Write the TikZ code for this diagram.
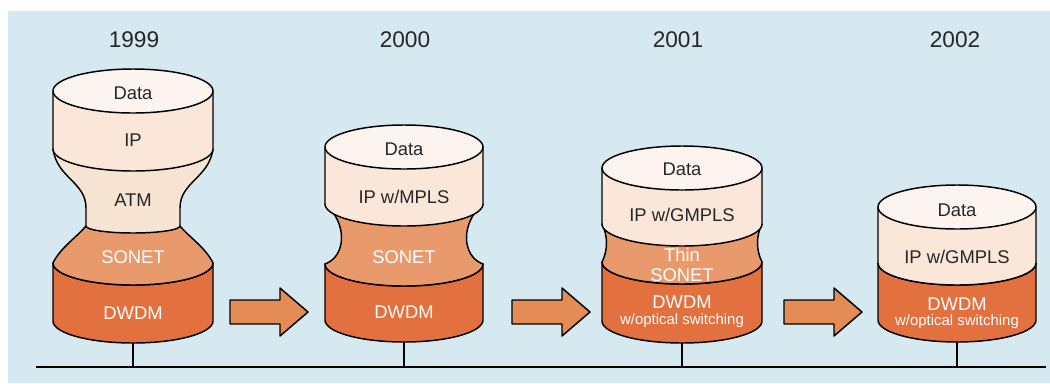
\documentclass[tikz,border=0pt]{standalone}
\usepackage{fontspec}
\setmainfont{Liberation Sans}
\definecolor{panel}{HTML}{D7E9F0}
\definecolor{datac}{HTML}{FDF3EF}
\definecolor{ipc}{HTML}{FAE7D9}
\definecolor{atmc}{HTML}{F7E4D2}
\definecolor{sonetc}{HTML}{E89A6C}
\definecolor{dwdmc}{HTML}{E3703F}
\definecolor{arrowc}{HTML}{E58B56}
\begin{document}
\begin{tikzpicture}[x=0.75pt,y=-0.75pt,
  outline/.style={draw=black,line width=1.1pt,line join=round},
  layerdata/.style={outline,fill=datac},
  layerip/.style={outline,fill=ipc},
  layeratm/.style={outline,fill=atmc},
  layersonet/.style={outline,fill=sonetc},
  layerdwdm/.style={outline,fill=dwdmc},
  bigarrow/.style={outline,fill=arrowc},
  darklabel/.style={text=black!85,font=\fontsize{13.8}{15}\selectfont,inner sep=0pt},
  lightlabel/.style={text=white,font=\fontsize{13.8}{15}\selectfont,inner sep=0pt},
  smalllabel/.style={text=white,font=\fontsize{11.2}{12}\selectfont,inner sep=0pt},
  yearlabel/.style={text=black!85,font=\fontsize{17}{19}\selectfont,inner sep=0pt},
  stem/.style={draw=black,line width=1.4pt},
  ground/.style={draw=black,line width=1.6pt}]

% canvas and panel
\useasboundingbox (0,0) rectangle (1050,383);
\fill[white] (0,0) rectangle (1050,383);
\fill[panel] (8,11) rectangle (1050,383);

% ---------- 1999 stack (centre x = 133) ----------
\path[layerdwdm] (53,263) -- (53,321) arc[start angle=180,end angle=0,x radius=80,y radius=22]
  -- (213,263) arc[start angle=0,end angle=180,x radius=80,y radius=22] -- cycle;
\path[layersonet] (53,263) arc[start angle=180,end angle=0,x radius=80,y radius=22]
  .. controls (206,248) and (188,236) .. (180,226)
  arc[start angle=0,end angle=-180,x radius=47,y radius=7]
  .. controls (78,236) and (60,248) .. (53,263) -- cycle;
\path[layeratm] (53,149) .. controls (57,178) and (86,182) .. (86,208) -- (86,226)
  arc[start angle=180,end angle=0,x radius=47,y radius=7]
  -- (180,208) .. controls (180,182) and (209,178) .. (213,149) -- cycle;
\path[layerip] (53,91) -- (53,149) arc[start angle=180,end angle=0,x radius=80,y radius=22]
  -- (213,91) -- cycle;
\path[layerdata] (133,91) ellipse[x radius=80,y radius=22];

\node[yearlabel]  (y1)    at (134,40)  {1999};
\node[darklabel]  (d1)    at (133,93)  {Data};
\node[darklabel]  (ip1)   at (133,140) {IP};
\node[darklabel]  (atm1)  at (133,200) {ATM};
\node[lightlabel] (son1)  at (133,257) {SONET};
\node[lightlabel] (dw1)   at (133,313) {DWDM};

% ---------- 2000 stack (centre x = 404) ----------
\path[layerdwdm] (325,264) -- (325,320) arc[start angle=180,end angle=0,x radius=79,y radius=22]
  -- (483,264) arc[start angle=0,end angle=180,x radius=79,y radius=22] -- cycle;
\path[layersonet] (325,264) arc[start angle=180,end angle=0,x radius=79,y radius=22]
  .. controls (461,256) and (461,222) .. (483,204) -- (325,204)
  .. controls (347,222) and (347,256) .. (325,264) -- cycle;
\path[layerip] (325,147) -- (325,204) arc[start angle=180,end angle=0,x radius=79,y radius=22]
  -- (483,147) -- cycle;
\path[layerdata] (404,147) ellipse[x radius=79,y radius=22];

\node[yearlabel]  (y2)    at (405,40)  {2000};
\node[darklabel]  (d2)    at (404,149) {Data};
\node[darklabel]  (ip2)   at (404,197) {IP w/MPLS};
\node[lightlabel] (son2)  at (404,257) {SONET};
\node[lightlabel] (dw2)   at (404,312) {DWDM};

% ---------- 2001 stack (centre x = 682) ----------
\path[layerdwdm] (602,262) -- (602,321) arc[start angle=180,end angle=0,x radius=80,y radius=22]
  -- (762,262) arc[start angle=0,end angle=180,x radius=80,y radius=22] -- cycle;
\path[layersonet] (602,262) arc[start angle=180,end angle=0,x radius=80,y radius=22]
  .. controls (756,250) and (756,236) .. (762,224) -- (602,224)
  .. controls (608,236) and (608,250) .. (602,262) -- cycle;
\path[layerip] (602,168) -- (602,224) arc[start angle=180,end angle=0,x radius=80,y radius=22]
  -- (762,168) -- cycle;
\path[layerdata] (682,168) ellipse[x radius=80,y radius=22];

\node[yearlabel]  (y3)    at (678,40)  {2001};
\node[darklabel]  (d3)    at (682,169) {Data};
\node[darklabel]  (ip3)   at (682,215) {IP w/GMPLS};
\node[lightlabel] (thin3) at (682,255) {Thin};
\node[lightlabel] (son3)  at (682,275) {SONET};
\node[lightlabel] (dw3)   at (682,302) {DWDM};
\node[smalllabel] (sw3)   at (682,321) {w/optical switching};

% ---------- 2002 stack (centre x = 957) ----------
\path[layerdwdm] (878,263) -- (878,320) arc[start angle=180,end angle=0,x radius=79,y radius=22]
  -- (1036,263) arc[start angle=0,end angle=180,x radius=79,y radius=22] -- cycle;
\path[layerip] (878,207) -- (878,263) arc[start angle=180,end angle=0,x radius=79,y radius=22]
  -- (1036,207) -- cycle;
\path[layerdata] (957,207) ellipse[x radius=79,y radius=22];

\node[yearlabel]  (y4)    at (955,40)  {2002};
\node[darklabel]  (d4)    at (957,210) {Data};
\node[darklabel]  (ip4)   at (957,257) {IP w/GMPLS};
\node[lightlabel] (dw4)   at (957,304) {DWDM};
\node[smalllabel] (sw4)   at (957,322) {w/optical switching};

% ---------- transition arrows ----------
\path[bigarrow] (230,300) -- (280,300) -- (280,288) -- (308,312) -- (280,336) -- (280,324) -- (230,324) -- cycle;
\path[bigarrow] (512,300) -- (562,300) -- (562,288) -- (590,312) -- (562,336) -- (562,324) -- (512,324) -- cycle;
\path[bigarrow] (784,300) -- (834,300) -- (834,288) -- (862,312) -- (834,336) -- (834,324) -- (784,324) -- cycle;

% ---------- timeline ----------
\coordinate (gl) at (36,367);
\coordinate (gr) at (1046,367);
\coordinate (b1) at (133,343);  \coordinate (g1) at (133,367);
\coordinate (b2) at (404,342);  \coordinate (g2) at (404,367);
\coordinate (b3) at (682,343);  \coordinate (g3) at (682,367);
\coordinate (b4) at (957,342);  \coordinate (g4) at (957,367);
\draw[stem] (b1) -- (g1);
\draw[stem] (b2) -- (g2);
\draw[stem] (b3) -- (g3);
\draw[stem] (b4) -- (g4);
\draw[ground] (gl) -- (gr);
\end{tikzpicture}
\end{document}
